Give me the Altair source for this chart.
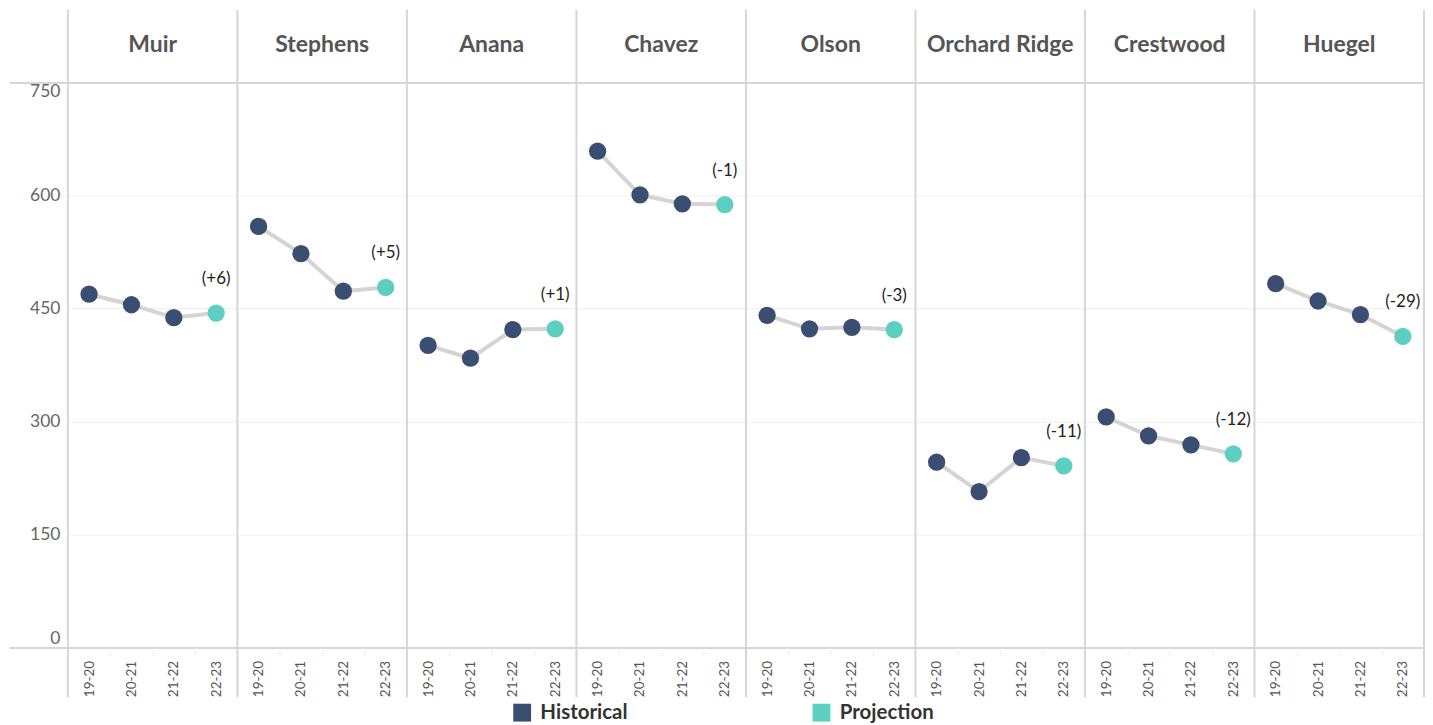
import altair as alt
import pandas as pd

schools = ["Muir", "Stephens", "Anana", "Chavez", "Olson", "Orchard Ridge", "Crestwood", "Huegel"]
years = ["19-20", "20-21", "21-22", "22-23"]
series_type = ["Historical", "Historical", "Historical", "Projection"]

muir = [469, 455, 438, 444]
stephens = [559, 523, 473, 478]
anana = [401, 384, 422, 423]
chavez = [659, 601, 589, 588]
olson = [441, 423, 425, 422]
orchard_ridge = [246, 207, 252, 241]
crestwood = [306, 281, 269, 257]
huegel = [483, 460, 442, 413]
values = [muir, stephens, anana, chavez, olson, orchard_ridge, crestwood, huegel]

change_labels = ["(+6)", "(+5)", "(+1)", "(-1)", "(-3)", "(-11)", "(-12)", "(-29)"]
y_ticks = [0, 150, 300, 450, 600, 750]

NAVY = "#3a4e72"
TEAL = "#5ccfc1"
LINE = "#d4d4d4"
SEP = "#d6d6d6"
FONT = "Lato"

rows = []
for s, vals in zip(schools, values):
    for y, v, t in zip(years, vals, series_type):
        rows.append({"school": s, "year": y, "key": s + "|" + y, "value": v, "type": t})
df = pd.DataFrame(rows)
keys = list(df["key"])

first_df = pd.DataFrame({"key": [s + "|" + years[0] for s in schools]})
last_df = pd.DataFrame({"key": [schools[-1] + "|" + years[-1]]})
header_df = pd.DataFrame({"key": [s + "|" + years[1] for s in schools], "school": schools})
ann_df = df[df["year"] == years[-1]].copy()
ann_df["label"] = change_labels

xscale = alt.Scale(type="band", domain=keys, paddingInner=0, paddingOuter=0)
xaxis = alt.Axis(
    title=None,
    labelExpr="split(datum.label, '|')[1]",
    labelAngle=-90,
    labelFontSize=13.5,
    labelColor="#555555",
    labelFont=FONT,
    labelPadding=5,
    domain=False,
    ticks=True,
    tickBand="extent",
    tickSize=8,
    tickColor="#eeeeee",
    grid=False,
)
edge_test = "datum.value == 0 || datum.value == 750"
yscale = alt.Scale(domain=[0, 750], nice=False, zero=True)
yaxis = alt.Axis(
    title=None,
    values=y_ticks,
    domain=False,
    tickSize=59,
    tickWidth=2,
    tickColor={"condition": {"test": edge_test, "value": SEP}, "value": "rgba(0,0,0,0)"},
    grid=True,
    gridWidth={"condition": {"test": edge_test, "value": 2}, "value": 1},
    gridColor={"condition": {"test": edge_test, "value": SEP}, "value": "#f0f0f0"},
    labelPadding=-51,
    labelFlush=True,
    labelFontSize=17.5,
    labelColor="#666666",
    labelFont=FONT,
)

base = alt.Chart(df)

sep = alt.Chart(first_df).mark_rule(color=SEP, strokeWidth=2).encode(
    x=alt.X("key:N", scale=xscale, axis=xaxis, bandPosition=0),
    y=alt.value(-73),
    y2=alt.value(616),
)
sep_right = alt.Chart(last_df).mark_rule(color=SEP, strokeWidth=2).encode(
    x=alt.X("key:N", scale=xscale, axis=xaxis, bandPosition=1),
    y=alt.value(-73),
    y2=alt.value(616),
)

line = base.mark_line(color=LINE, strokeWidth=4).encode(
    x=alt.X("key:N", scale=xscale, axis=xaxis),
    y=alt.Y("value:Q", scale=yscale, axis=yaxis),
    detail="school:N",
)

points = base.mark_circle(size=300, opacity=1).encode(
    x=alt.X("key:N", scale=xscale, axis=xaxis),
    y=alt.Y("value:Q", scale=yscale, axis=yaxis),
    color=alt.Color(
        "type:N",
        scale=alt.Scale(domain=["Historical", "Projection"], range=[NAVY, TEAL]),
        legend=alt.Legend(
            title=None,
            orient="none",
            legendX=445,
            legendY=621,
            direction="horizontal",
            symbolType="square",
            symbolSize=320,
            symbolOpacity=1,
            symbolStrokeWidth=0,
            labelFontSize=20.5,
            labelFontWeight="bold",
            labelColor="#333333",
            labelFont=FONT,
            labelOffset=8,
            columnPadding=184,
        ),
    ),
)

ann = alt.Chart(ann_df).mark_text(dy=-34, fontSize=17, color="#222222", font=FONT).encode(
    x=alt.X("key:N", scale=xscale, axis=xaxis),
    y=alt.Y("value:Q", scale=yscale, axis=yaxis),
    text="label:N",
)

header = alt.Chart(header_df).mark_text(
    fontSize=23, fontWeight="bold", color="#555555", font=FONT, baseline="middle"
).encode(
    x=alt.X("key:N", scale=xscale, axis=xaxis, bandPosition=1),
    y=alt.value(-38),
    text="school:N",
)

chart = (
    alt.layer(sep, sep_right, line, points, ann, header)
    .properties(width=1359, height=566, padding=0)
    .configure_view(stroke=None)
)

chart.save("out.html", embed_options={"renderer": "svg", "actions": False})
